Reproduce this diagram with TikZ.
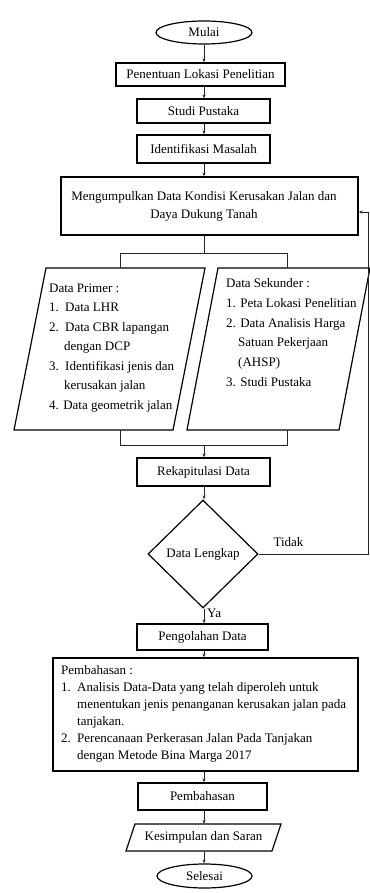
\documentclass[tikz,border=0pt]{standalone}
\usepackage{fontspec}
\setmainfont{Liberation Serif}
\usetikzlibrary{shapes.geometric,arrows.meta}
\begin{document}
\begin{tikzpicture}[x=1pt,y=-1pt,
  every node/.style={font=\fontsize{13}{15.6}\selectfont},
  box/.style={draw, line width=1.2pt, rectangle, inner sep=0pt},
  term/.style={draw, line width=1.2pt, ellipse, inner sep=0pt, minimum width=96pt, minimum height=23pt},
  conn/.style={line width=0.7pt, draw=black!85},
  arr/.style={conn, -{Stealth[length=4pt,width=3pt]}},
  shp/.style={line width=1.2pt, line join=miter},
  listtext/.style={anchor=north west, align=left, inner sep=0pt}
]
\useasboundingbox (0,0) rectangle (369,893);
\coordinate (col) at (204,0);

\node[term] (mulai) at (204,32.5) {Mulai};
\node[box, minimum width=169pt, minimum height=23pt] (pen) at (200.5,74.5) {Penentuan Lokasi Penelitian};
\node[box, minimum width=133pt, minimum height=24pt] (studi) at (203.5,111) {Studi Pustaka};
\node[box, minimum width=133pt, minimum height=28pt] (ident) at (203.5,149) {Identifikasi Masalah};
\node[box, minimum width=297pt, minimum height=58pt, align=center, font=\fontsize{13}{18}\selectfont] (kumpul) at (209.5,206)
  {Mengumpulkan Data Kondisi Kerusakan Jalan dan\hspace*{11pt}\\Daya Dukung Tanah\hspace*{11pt}};

% parallelograms
\draw[shp] (46,268) -- (205,268) -- (173,430) -- (14,430) -- cycle;
\draw[shp] (218,268) -- (370,268) -- (339,430) -- (187,430) -- cycle;
\node[listtext, font=\fontsize{13}{19.5}\selectfont] (lpt) at (49,283.5)
  {Data Primer :\\\makebox[16pt][l]{1.}Data LHR\\\makebox[16pt][l]{2.}Data CBR lapangan\\\hspace*{15pt}dengan DCP\\\makebox[16pt][l]{3.}Identifikasi jenis dan\\\hspace*{15pt}kerusakan jalan\\4. Data geometrik jalan};
\node[listtext, font=\fontsize{13}{19.7}\selectfont] (rpt) at (226,278.5)
  {Data Sekunder :\\1. Peta Lokasi Penelitian\\2. Data Analisis Harga\\\hspace*{12pt}Satuan Pekerjaan\\\hspace*{12pt}(AHSP)\\3. Studi Pustaka};

\coordinate (split) at (204,253);
\coordinate (lpin) at (120.5,268);
\coordinate (rpin) at (287,268);
\coordinate (lpout) at (120.5,430);
\coordinate (rpout) at (287,430);
\coordinate (merge) at (204,445);

\node[box, minimum width=133pt, minimum height=28pt] (rekap) at (203.5,472) {Rekapitulasi Data};
\node[draw, line width=1.2pt, diamond, minimum width=110pt, minimum height=108pt, inner sep=0pt] (dl) at (203,554) {Data Lengkap};
\node (tidak) at (288.5,542) {Tidak};
\node[anchor=west, inner sep=0pt] (ya) at (207,613) {Ya};
\node[box, minimum width=131pt, minimum height=26pt] (olah) at (202.5,637) {Pengolahan Data};
\node[box, minimum width=305pt, minimum height=113pt] (bahas) at (205.5,714.5) {};
\node[listtext, font=\fontsize{13}{17}\selectfont] (bahast) at (61,665.5)
  {Pembahasan :\\\makebox[16pt][l]{1.}Analisis Data-Data yang telah diperoleh untuk\\\hspace*{16pt}menentukan jenis penanganan kerusakan jalan pada\\\hspace*{16pt}tanjakan.\\\makebox[16pt][l]{2.}Perencanaan Perkerasan Jalan Pada Tanjakan\\\hspace*{16pt}dengan Metode Bina Marga 2017};
\node[box, minimum width=129pt, minimum height=27pt] (bahas2) at (202.5,796.5) {Pembahasan};
\draw[shp] (135,824) -- (281,824) -- (272,851) -- (126,851) -- cycle;
\node (kes) at (203.5,837.5) {Kesimpulan dan Saran};
\coordinate (kesT) at (204,824);
\coordinate (kesB) at (204,851);
\node[term, minimum width=95pt, minimum height=24pt] (sel) at (204.5,876) {Selesai};

% connectors
\draw[arr] (col |- mulai.south) -- (col |- pen.north);
\draw[arr] (col |- pen.south) -- (col |- studi.north);
\draw[arr] (col |- studi.south) -- (col |- ident.north);
\draw[arr] (col |- ident.south) -- (col |- kumpul.north);
\draw[conn] (split |- kumpul.south) -- (split);
\draw[conn] (lpin) -- (lpin |- split) -- (rpin |- split) -- (rpin);
\draw[conn] (lpout) -- (lpout |- merge) -- (rpout |- merge) -- (rpout);
\draw[arr] (merge) -- (merge |- rekap.north);
\draw[arr] (col |- rekap.south) -- (col |- dl.north);
\draw[arr] (col |- dl.south) -- (col |- olah.north);
\draw[arr] (col |- olah.south) -- (col |- bahas.north);
\draw[arr] (col |- bahas.south) -- (col |- bahas2.north);
\draw[arr] (col |- bahas2.south) -- (kesT);
\draw[arr] (kesB) -- (col |- sel.north);
\coordinate (fbR) at (368,554);
\coordinate (fbT) at (368,212);
\draw[arr] (dl.east) -- (fbR) -- (fbT) -- (kumpul.east |- fbT);
\end{tikzpicture}
\end{document}
